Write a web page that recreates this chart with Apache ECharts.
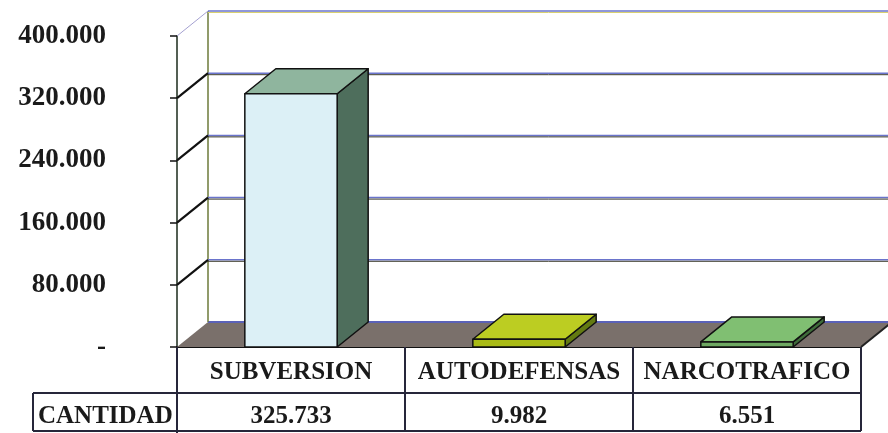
<!DOCTYPE html>
<html><head><meta charset="utf-8">
<script src="https://cdn.jsdelivr.net/npm/echarts@6/dist/echarts.min.js"></script>
<style>html,body{margin:0;padding:0;background:#fff}#c{width:888px;height:433px}</style>
</head><body><div id="c"></div>
<script>
// ---- data ----
const categories = ['SUBVERSION', 'AUTODEFENSAS', 'NARCOTRAFICO'];
const values = [325733, 9982, 6551];
const rowLabel = 'CANTIDAD';
const yTicks = [0, 80000, 160000, 240000, 320000, 400000];

// ---- styles ----
const faceFront = ['#dcf0f6', '#a9bb16', '#6ea862'];
const faceTop = ['#8fb59e', '#bccd22', '#80bf72'];
const faceSide = ['#4e6e5c', '#637a12', '#3f6c3a'];
const DX = 31, DY = -25;
const FONT = 'Liberation Serif';
const shadow = { textShadowColor: 'rgba(70,60,200,0.55)', textShadowOffsetX: 2, textShadowOffsetY: 1, textShadowBlur: 0 };

function fmt(n) { return n === 0 ? '-' : String(n).replace(/\B(?=(\d{3})+(?!\d))/g, '.'); }

const chart = echarts.init(document.getElementById('c'), null, { renderer: 'canvas' });

const GL = 177, GR = 27, GT = 36, GB = 86;
const W = 888, H = 433;
const xR = W - GR, yB = H - GB;
const row2 = yB + 46, tableBottom = 431;
const colW = (xR - GL) / categories.length;

const tableLines = [];
const lineStyle = { stroke: '#26263a', lineWidth: 2 };
tableLines.push({ type: 'line', shape: { x1: 33, y1: row2, x2: xR, y2: row2 }, style: lineStyle, z: 10 });
tableLines.push({ type: 'line', shape: { x1: 33, y1: tableBottom, x2: xR, y2: tableBottom }, style: lineStyle, z: 10 });
tableLines.push({ type: 'line', shape: { x1: 33, y1: row2, x2: 33, y2: tableBottom }, style: lineStyle, z: 10 });
for (let k = 0; k <= categories.length; k++) {
  const x = GL + k * colW;
  tableLines.push({ type: 'line', shape: { x1: x, y1: yB, x2: x, y2: k === 0 ? H : tableBottom }, style: lineStyle, z: 10 });
}
tableLines.push({
  type: 'text', x: 38, y: row2 + 24, z: 10,
  style: Object.assign({ text: rowLabel, font: 'bold 25px "' + FONT + '"', fill: '#1a1a1a', verticalAlign: 'middle', align: 'left' }, shadow)
});

const option = {
  animation: false,
  grid: { left: GL, right: GR, top: GT, bottom: GB, containLabel: false },
  xAxis: [
    {
      type: 'category', data: categories,
      axisLine: { show: true, lineStyle: { color: '#111', width: 2 } },
      axisTick: { show: false },
      axisLabel: Object.assign({ interval: 0, margin: 26, verticalAlign: 'middle', fontFamily: FONT, fontWeight: 'bold', fontSize: 25, color: '#1a1a1a' }, shadow),
      splitLine: { show: false }
    },
    {
      type: 'category', data: categories, position: 'bottom', offset: 46,
      axisLine: { show: false }, axisTick: { show: false },
      axisLabel: Object.assign({ interval: 0, margin: 24, verticalAlign: 'middle', fontFamily: FONT, fontWeight: 'bold', fontSize: 25, color: '#1a1a1a',
        formatter: (v, i) => fmt(values[i]) }, shadow)
    }
  ],
  yAxis: {
    type: 'value', min: 0, max: 400000, interval: 80000,
    axisLine: { show: true, lineStyle: { color: '#1b2a1b', width: 1.5 } },
    axisTick: { show: true, length: 7, lineStyle: { color: '#111', width: 1.5 } },
    axisLabel: Object.assign({ margin: 71, fontFamily: FONT, fontWeight: 'bold', fontSize: 27, color: '#1a1a1a', formatter: v => fmt(v) }, shadow),
    splitLine: { show: false }
  },
  graphic: tableLines,
  series: [
    {
      type: 'custom', z: 1, silent: true, clip: false,
      data: yTicks.map(v => [0, v]),
      renderItem: function (params, api) {
        const cs = params.coordSys;
        const v = api.value(1);
        const y = api.coord([0, v])[1];
        const x0 = cs.x, x1 = cs.x + cs.width;
        const children = [];
        if (v === 0) {
          children.push({ type: 'polygon', shape: { points: [[x0, y], [x1, y], [x1 + DX, y + DY], [x0 + DX, y + DY]] },
            style: { fill: '#7a706b' } });
          children.push({ type: 'line', shape: { x1: x0 + DX, y1: y + DY, x2: x1 + DX, y2: y + DY }, style: { stroke: '#5b62b8', lineWidth: 2 } });
          children.push({ type: 'line', shape: { x1: x0 + DX, y1: cs.y + DY, x2: x0 + DX, y2: y + DY }, style: { stroke: '#6d7a3a', lineWidth: 1.5 } });
          children.push({ type: 'line', shape: { x1: x1, y1: y, x2: x1 + DX, y2: y + DY }, style: { stroke: '#222', lineWidth: 2 } });
        } else {
          const top = v === yTicks[yTicks.length - 1];
          children.push({ type: 'line', shape: { x1: x0 + DX, y1: y + DY, x2: x1 + DX, y2: y + DY }, style: { stroke: '#6a74cc', lineWidth: 1.5 } });
          children.push({ type: 'line', shape: { x1: x0 + DX, y1: y + DY + 1.5, x2: x1 + DX, y2: y + DY + 1.5 }, style: { stroke: top ? '#d8d070' : '#3a3a2a', lineWidth: 1 } });
          children.push({ type: 'line', shape: { x1: x0, y1: y, x2: x0 + DX, y2: y + DY },
            style: { stroke: top ? '#a4a0d0' : '#111', lineWidth: top ? 1 : 2.2 } });
        }
        return { type: 'group', children: children };
      }
    },
    {
      type: 'custom', z: 3, silent: true, clip: false,
      data: values.map((v, i) => [i, v]),
      renderItem: function (params, api) {
        const i = api.value(0), v = api.value(1);
        const t = api.coord([i, v]), b = api.coord([i, 0]);
        const bw = api.size([1, 0])[0] * 0.405;
        const xl = t[0] - bw / 2, xr = t[0] + bw / 2, yt = t[1], yb = b[1];
        const st = { stroke: '#111', lineWidth: 1.5, lineJoin: 'round' };
        return {
          type: 'group', children: [
            { type: 'polygon', shape: { points: [[xr, yt], [xr + DX, yt + DY], [xr + DX, yb + DY], [xr, yb]] },
              style: Object.assign({ fill: faceSide[i] }, st) },
            { type: 'polygon', shape: { points: [[xl, yt], [xl + DX, yt + DY], [xr + DX, yt + DY], [xr, yt]] },
              style: Object.assign({ fill: faceTop[i] }, st) },
            { type: 'rect', shape: { x: xl, y: yt, width: bw, height: yb - yt },
              style: Object.assign({ fill: faceFront[i] }, st) }
          ]
        };
      }
    }
  ]
};
chart.setOption(option);
</script>
</body></html>
